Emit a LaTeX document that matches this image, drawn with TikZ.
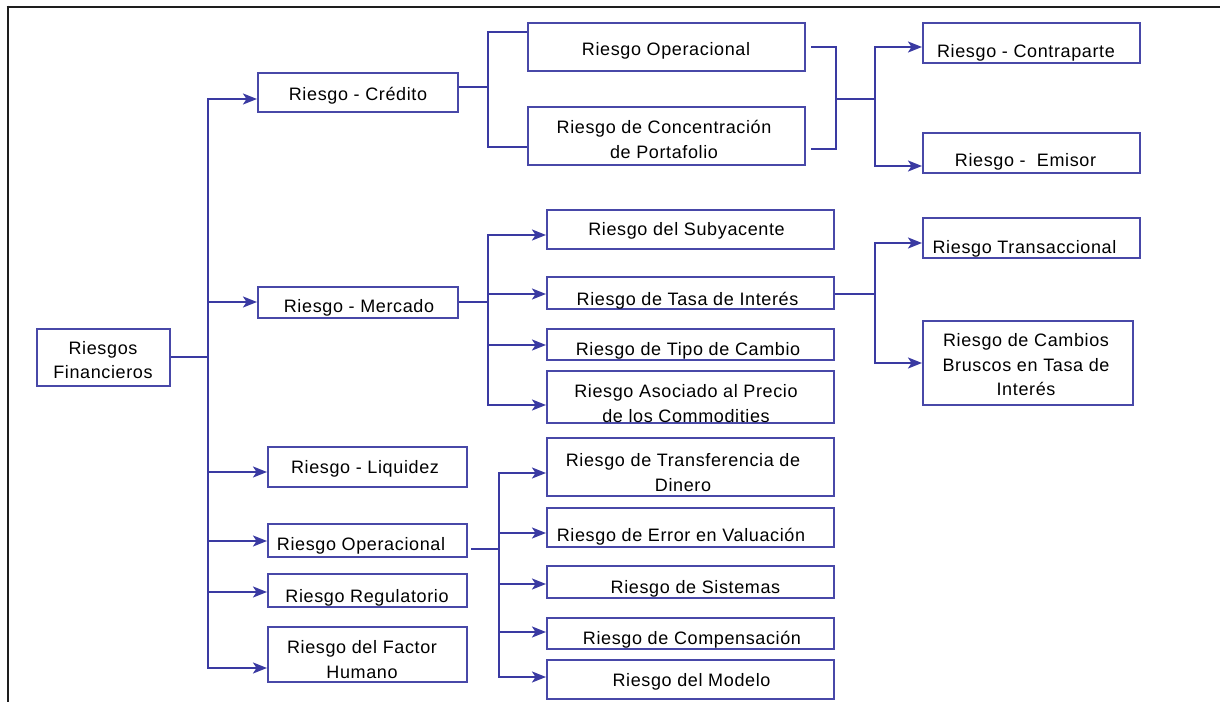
\documentclass[tikz,border=0pt]{standalone}
\usepackage{fontspec}
\setmainfont{Liberation Sans}[LetterSpace=3.5]
\usetikzlibrary{arrows.meta,calc}
\definecolor{ln}{RGB}{58,58,162}
\definecolor{bx}{RGB}{72,72,168}
\definecolor{fr}{RGB}{30,30,30}
\begin{document}
\begin{tikzpicture}[x=1pt,y=-1pt,
  box/.style={draw=bx,line width=2pt,inner sep=0pt},
  txt/.style={font=\fontsize{18}{24.5}\selectfont,inner sep=0pt,align=center,anchor=base},
  line/.style={draw=ln,line width=2pt},
  arr/.style={line,-{Stealth[length=14pt,width=11pt,inset=3.5pt]}},
  frame/.style={draw=fr,line width=2pt}]
\useasboundingbox (0,0) rectangle (1220,702);
\draw[frame] (6.5,6.5) -- (1220,6.5);
\draw[frame] (7.5,5.5) -- (7.5,702);
% boxes
\node[box,minimum width=133pt,minimum height=57pt] (fin) at (103.5,357.5) {};
\node[box,minimum width=200pt,minimum height=39pt] (cred) at (358,92.5) {};
\node[box,minimum width=200pt,minimum height=31pt] (merc) at (358,302.5) {};
\node[box,minimum width=199pt,minimum height=40pt] (liq) at (367.5,467) {};
\node[box,minimum width=199pt,minimum height=33pt] (opl) at (367.5,540.5) {};
\node[box,minimum width=199pt,minimum height=33pt] (reg) at (367.5,590.5) {};
\node[box,minimum width=199pt,minimum height=55pt] (hum) at (367.5,654.5) {};
\node[box,minimum width=277pt,minimum height=48pt] (ope) at (666.5,47) {};
\node[box,minimum width=277pt,minimum height=58pt] (con) at (666.5,136) {};
\node[box,minimum width=217pt,minimum height=40pt] (cp) at (1031.5,43) {};
\node[box,minimum width=217pt,minimum height=40pt] (em) at (1031.5,153) {};
\node[box,minimum width=287pt,minimum height=39pt] (sub) at (690.5,229.5) {};
\node[box,minimum width=287pt,minimum height=32pt] (tasa) at (690.5,293) {};
\node[box,minimum width=287pt,minimum height=31pt] (tipo) at (690.5,344.5) {};
\node[box,minimum width=287pt,minimum height=52pt] (com) at (690.5,397) {};
\node[box,minimum width=217pt,minimum height=40pt] (tran) at (1031.5,238) {};
\node[box,minimum width=210pt,minimum height=84pt] (bru) at (1028,363) {};
\node[box,minimum width=287pt,minimum height=58pt] (trf) at (690.5,467) {};
\node[box,minimum width=287pt,minimum height=39pt] (err) at (690.5,527.5) {};
\node[box,minimum width=287pt,minimum height=32pt] (sis) at (690.5,582) {};
\node[box,minimum width=287pt,minimum height=31pt] (cmp) at (690.5,633.5) {};
\node[box,minimum width=287pt,minimum height=39pt] (mod) at (690.5,679.5) {};
% texts (anchor base = baseline of the last line)
\node[txt] (tfin) at (103,378.5) {Riesgos\\Financieros};
\node[txt] (tcred) at (358,100.5) {Riesgo - Crédito};
\node[txt] (tmerc) at (359,312.5) {Riesgo - Mercado};
\node[txt] (tliq) at (365,473.5) {Riesgo - Liquidez};
\node[txt] (topl) at (361,550.5) {Riesgo Operacional};
\node[txt] (treg) at (367,602.5) {Riesgo Regulatorio};
\node[txt] (thum) at (362,678) {Riesgo del Factor\\Humano};
\node[txt] (tope) at (666,55.5) {Riesgo Operacional};
\node[txt] (tcon) at (664,158) {Riesgo de Concentración\\de Portafolio};
\node[txt] (tcp) at (1026,57) {Riesgo - Contraparte};
\node[txt] (tem) at (1025.5,166.5) {Riesgo -\ \ Emisor};
\node[txt] (tsub) at (686.5,235.5) {Riesgo del Subyacente};
\node[txt] (ttasa) at (687.5,305.5) {Riesgo de Tasa de Interés};
\node[txt] (ttipo) at (688,355.5) {Riesgo de Tipo de Cambio};
\node[txt] (tcom) at (686,422) {Riesgo Asociado al Precio\\de los Commodities};
\node[txt] (ttran) at (1024.5,253) {Riesgo Transaccional};
\node[txt] (tbru) at (1026,395.5) {Riesgo de Cambios\\Bruscos en Tasa de\\Interés};
\node[txt] (ttrf) at (683,491) {Riesgo de Transferencia de\\Dinero};
\node[txt] (terr) at (681,541.5) {Riesgo de Error en Valuación};
\node[txt] (tsis) at (695.5,593.5) {Riesgo de Sistemas};
\node[txt] (tcmp) at (692,644.5) {Riesgo de Compensación};
\node[txt] (tmod) at (691.5,686) {Riesgo del Modelo};
% connectors: main trunk
\coordinate (j0) at (208,357);
\draw[line] (fin.east |- j0) -- (j0);
\draw[arr] (j0) |- ([yshift=-6.5pt]cred.west);
\draw[arr] (j0) |- ([yshift=0.5pt]merc.west);
\draw[arr] (j0) |- ([yshift=-5pt]liq.west);
\draw[arr] (j0) |- ([yshift=-0.5pt]opl.west);
\draw[arr] (j0) |- ([yshift=-1.5pt]reg.west);
\draw[arr] (j0) |- ([yshift=-13.5pt]hum.west);
% credit branch
\coordinate (j1) at (488,87);
\draw[line] ([yshift=5.5pt]cred.east) -- (j1);
\draw[line] (j1) |- ([yshift=15pt]ope.west);
\draw[line] (j1) |- ([yshift=-11pt]con.west);
\coordinate (j2) at (836,99);
\coordinate (j3) at (875,99);
\draw[line] ([xshift=5pt]ope.east) -| (j2);
\draw[line] ([xshift=5pt,yshift=-13pt]con.east) -| (j2);
\draw[line] (j2) -- (j3);
\draw[arr] (j3) |- ([yshift=-4pt]cp.west);
\draw[arr] (j3) |- ([yshift=-13pt]em.west);
% market branch
\coordinate (j4) at (488,302);
\draw[line] ([yshift=0.5pt]merc.east) -- (j4);
\draw[arr] (j4) |- ([yshift=-5.5pt]sub.west);
\draw[arr] (j4) |- ([yshift=-1pt]tasa.west);
\draw[arr] (j4) |- ([yshift=-0.5pt]tipo.west);
\draw[arr] (j4) |- ([yshift=-8pt]com.west);
\coordinate (j5) at (875,294);
\draw[line] ([yshift=-1pt]tasa.east) -- (j5);
\draw[arr] (j5) |- ([yshift=-5pt]tran.west);
\draw[arr] (j5) |- (bru.west);
% operational branch
\coordinate (j6) at (499,549);
\draw[line] ([xshift=3pt,yshift=-8.5pt]opl.east) -- (j6);
\draw[arr] (j6) |- ([yshift=-6pt]trf.west);
\draw[arr] (j6) |- ([yshift=-5.5pt]err.west);
\draw[arr] (j6) |- ([yshift=-2pt]sis.west);
\draw[arr] (j6) |- ([yshift=1.5pt]cmp.west);
\draw[arr] (j6) |- ([yshift=2.5pt]mod.west);
\end{tikzpicture}
\end{document}
